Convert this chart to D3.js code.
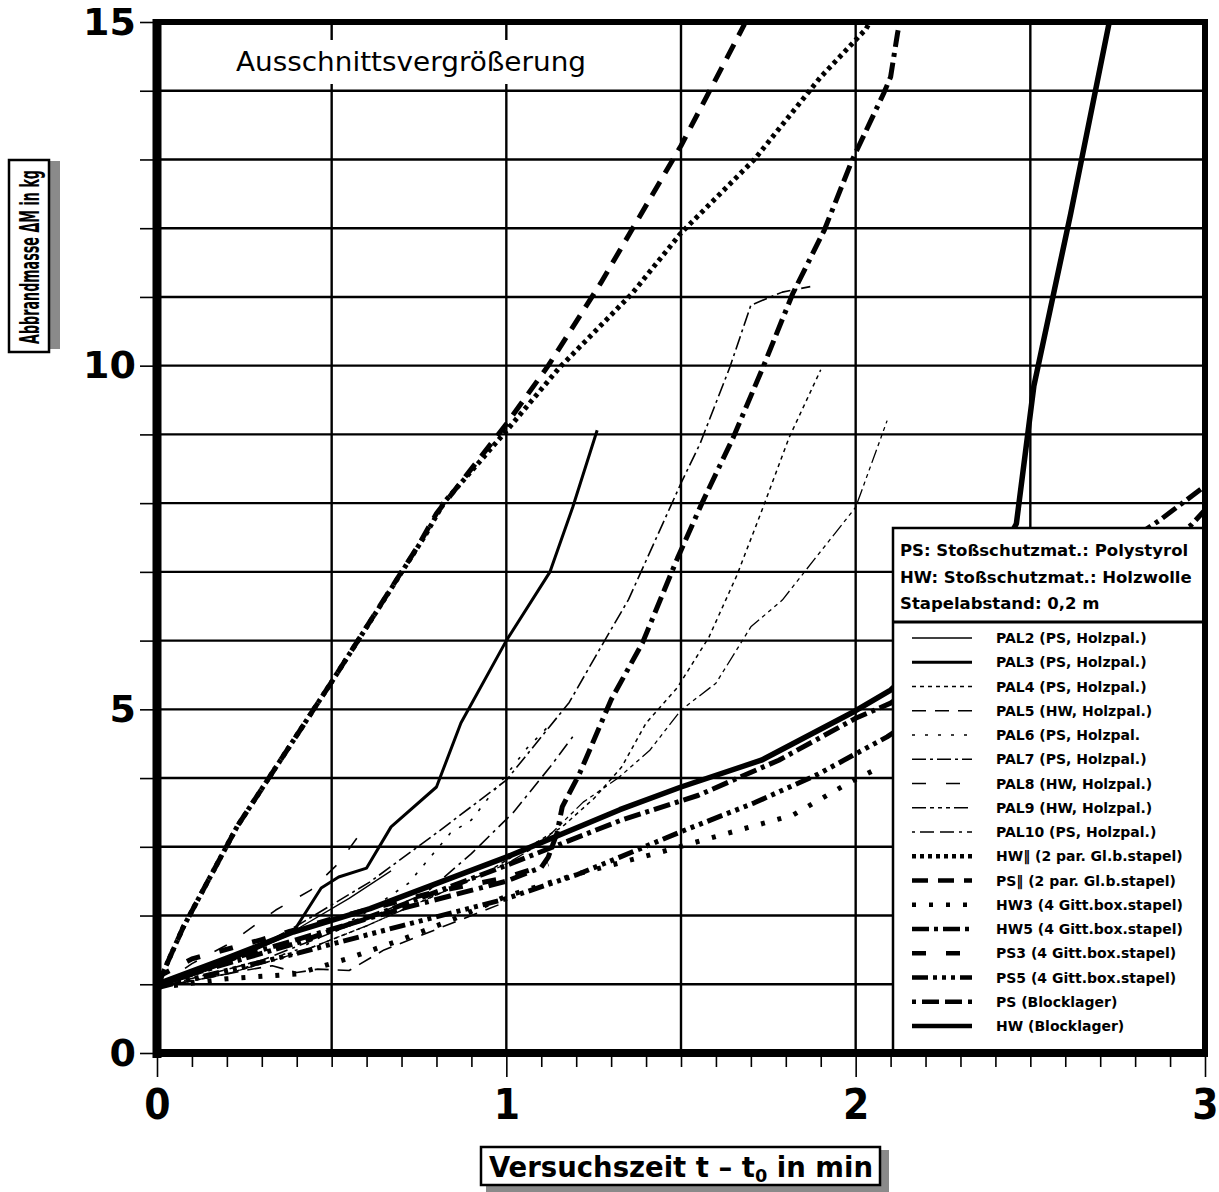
<!DOCTYPE html>
<html>
<head>
<meta charset="utf-8">
<script src="https://cdn.jsdelivr.net/npm/d3@7"></script>
<style>
  body { margin: 0; background: #fff; }
  svg { display: block; }
</style>
</head>
<body>
<svg id="chart"></svg>
<script>
// data: [time in min, burnt mass in kg]
const pal2 = [[0,0.95],[0.1,1.12],[0.2,1.32],[0.3,1.55],[0.41,1.83],[0.55,2.25],[0.67,2.65]];
const pal3 = [[0,0.97],[0.1,1.15],[0.2,1.33],[0.3,1.55],[0.39,1.76],[0.47,2.4],[0.52,2.56],[0.6,2.69],[0.67,3.29],[0.8,3.87],[0.87,4.8],[1.0,6.0],[1.125,7.0],[1.19,7.94],[1.26,9.06]];
const pal4 = [[0,0.95],[0.2,1.15],[0.4,1.45],[0.6,1.85],[0.8,2.3],[0.95,2.65],[1.16,3.29],[1.25,3.7],[1.33,4.16],[1.4,4.8],[1.49,5.32],[1.58,6.05],[1.66,6.95],[1.735,7.94],[1.81,8.96],[1.9,9.94]];
const pal5 = [[0,0.95],[0.15,1.1],[0.25,1.2],[0.33,1.27],[0.4,1.17],[0.46,1.22],[0.55,1.2],[0.65,1.5],[0.8,1.8],[1.0,2.2]];
const pal6 = [[0,0.95],[0.2,1.15],[0.4,1.5],[0.6,2.05],[0.72,2.47],[0.84,3.2],[0.9,3.39],[1.06,4.44],[1.12,4.75]];
const pal7 = [[0,0.95],[0.2,1.3],[0.4,1.85],[0.61,2.49],[0.8,3.2],[1.0,3.97],[1.18,5.1],[1.27,5.9],[1.35,6.6],[1.5,8.29],[1.555,8.87],[1.64,9.98],[1.7,10.88],[1.79,11.07],[1.87,11.15]];
const pal8 = [[0,0.95],[0.1,1.3],[0.21,1.6],[0.34,2.08],[0.44,2.37],[0.52,2.76],[0.59,3.25]];
const pal9 = [[0,0.95],[0.2,1.15],[0.4,1.45],[0.6,1.85],[0.8,2.3],[1.0,2.75],[1.1,3.05],[1.22,3.65],[1.32,4.0],[1.41,4.4],[1.5,4.99],[1.6,5.38],[1.7,6.2],[1.79,6.59],[1.88,7.17],[2.0,7.94],[2.09,9.2]];
const pal10 = [[0,0.95],[0.3,1.35],[0.6,1.95],[0.77,2.33],[0.9,2.9],[1.02,3.5],[1.125,4.16],[1.19,4.6]];
const hwPar = [[0,0.95],[0.02,1.2],[0.075,1.83],[0.23,3.3],[0.5,5.4],[0.77,7.55],[0.82,8.0],[1.0,9.05],[1.15,9.96],[1.36,11.05],[1.5,11.93],[1.71,13.0],[1.9,14.2],[2.03,14.9],[2.05,15.1]];
const psPar = [[0,0.95],[0.02,1.2],[0.075,1.83],[0.23,3.3],[0.5,5.4],[0.75,7.4],[0.8,7.85],[1.0,9.15],[1.12,10.0],[1.27,11.2],[1.5,13.2],[1.68,14.95],[1.69,15.1]];
const hw3 = [[0,0.95],[0.2,1.08],[0.4,1.15],[0.55,1.38],[0.7,1.65],[0.85,1.95],[1.0,2.28],[1.2,2.6],[1.44,2.92],[1.6,3.15],[1.82,3.46],[1.98,3.93],[2.07,4.16]];
const hw5 = [[0,1.0],[0.2,1.3],[0.4,1.6],[0.7,2.15],[1.0,2.73],[1.325,3.38],[1.55,3.75],[1.78,4.26],[2.0,4.87],[2.1,5.09],[2.5,6.5],[2.87,7.75],[3.0,8.25]];
const ps3 = [[0,1.1],[0.1,1.37],[0.3,1.65],[0.5,1.95],[0.8,2.35],[1.0,2.55],[1.12,2.75]];
const ps5 = [[0,0.95],[0.2,1.2],[0.4,1.45],[0.7,1.85],[0.99,2.23],[1.2,2.59],[1.325,2.85],[1.5,3.22],[1.71,3.64],[1.89,4.05],[2.09,4.6],[2.5,6.0],[2.96,7.68],[3.0,7.9]];
const psBlock = [[0,1.0],[0.2,1.35],[0.4,1.65],[0.7,2.1],[1.0,2.5],[1.1,2.7],[1.12,2.85],[1.145,3.2],[1.16,3.58],[1.21,4.07],[1.3,5.14],[1.39,5.97],[1.49,7.2],[1.56,8.0],[1.65,8.96],[1.735,9.98],[1.82,11.05],[1.91,11.97],[1.99,12.99],[2.08,13.96],[2.1,14.2],[2.12,14.84],[2.13,15.1]];
const hwBlock = [[0,1.0],[0.2,1.38],[0.39,1.76],[0.61,2.1],[1.0,2.85],[1.325,3.54],[1.5,3.87],[1.73,4.26],[2.0,4.98],[2.1,5.28],[2.3,6.2],[2.46,7.7],[2.51,9.7],[2.615,12.2],[2.73,15.1]];

const seriesLabels = [
  "PAL2 (PS, Holzpal.)", "PAL3 (PS, Holzpal.)", "PAL4 (PS, Holzpal.)",
  "PAL5 (HW, Holzpal.)", "PAL6 (PS, Holzpal.", "PAL7 (PS, Holzpal.)",
  "PAL8 (HW, Holzpal.)", "PAL9 (HW, Holzpal.)", "PAL10 (PS, Holzpal.)",
  "HW\u2016 (2 par. Gl.b.stapel)", "PS\u2016 (2 par. Gl.b.stapel)",
  "HW3 (4 Gitt.box.stapel)", "HW5 (4 Gitt.box.stapel)",
  "PS3 (4 Gitt.box.stapel)", "PS5 (4 Gitt.box.stapel)",
  "PS (Blocklager)", "HW (Blocklager)"
];
const seriesValues = [pal2, pal3, pal4, pal5, pal6, pal7, pal8, pal9, pal10,
  hwPar, psPar, hw3, hw5, ps3, ps5, psBlock, hwBlock];

const headerLines = ["PS: Sto\u00dfschutzmat.: Polystyrol", "HW: Sto\u00dfschutzmat.: Holzwolle", "Stapelabstand: 0,2 m"];
const xTickLabels = [0, 1, 2, 3];
const yTickLabels = [0, 5, 10, 15];

// line styles, same order as the series
const lineStyles = [
  { w: 1.3, dash: null },
  { w: 3, dash: null },
  { w: 1.5, dash: "4,4" },
  { w: 1.6, dash: "14,9" },
  { w: 1.6, dash: "3,10" },
  { w: 1.6, dash: "14,4,3,4" },
  { w: 1.6, dash: "14,20" },
  { w: 1.3, dash: "14,4,4,4,4,4,4,4" },
  { w: 1.6, dash: "3,5,14,6,14,5" },
  { w: 5, dash: "4,4" },
  { w: 5, dash: "16,10" },
  { w: 5, dash: "4,13" },
  { w: 5, dash: "17,5,4,5" },
  { w: 5, dash: "14,20" },
  { w: 5, dash: "16,5,4,5,4,5,4,5" },
  { w: 5, dash: "4,6,17,6,17,6" },
  { w: 5.5, dash: null }
];

const width = 1219;
const height = 1192;
const plotLeft = 157;
const plotRight = 1205;
const plotTop = 22;
const plotBottom = 1053;
const font = "'DejaVu Sans', sans-serif";
const fontCond = "'DejaVu Sans Condensed', 'DejaVu Sans', sans-serif";

const svg = d3.select("#chart").attr("width", width).attr("height", height);

const xScale = d3.scaleLinear().domain([0, 3]).range([plotLeft, plotRight]);
const yScale = d3.scaleLinear().domain([0, 15]).range([plotBottom, plotTop]);

// grid
const grid = svg.append("g").attr("stroke", "#000").attr("stroke-width", 2.4);
grid.selectAll("line.v")
  .data([0.5, 1, 1.5, 2, 2.5])
  .enter()
  .append("line")
  .attr("x1", (d) => xScale(d)).attr("x2", (d) => xScale(d))
  .attr("y1", plotTop).attr("y2", plotBottom);
grid.selectAll("line.h")
  .data(d3.range(1, 15))
  .enter()
  .append("line")
  .attr("x1", plotLeft).attr("x2", plotRight)
  .attr("y1", (d) => yScale(d)).attr("y2", (d) => yScale(d));

// annotation with white background
svg.append("rect").attr("x", 226).attr("y", 40).attr("width", 372).attr("height", 44).attr("fill", "#fff");
svg.append("text")
  .attr("x", 236).attr("y", 71)
  .attr("font-family", font).attr("font-size", 26)
  .attr("textLength", 350).attr("lengthAdjust", "spacingAndGlyphs")
  .text("Ausschnittsvergr\u00f6\u00dferung");

// series
svg.append("clipPath").attr("id", "plotClip")
  .append("rect")
  .attr("x", plotLeft).attr("y", plotTop)
  .attr("width", plotRight - plotLeft).attr("height", plotBottom - plotTop);

const line = d3.line().x((d) => xScale(d[0])).y((d) => yScale(d[1]));

svg.append("g").attr("clip-path", "url(#plotClip)")
  .selectAll("path")
  .data(seriesValues)
  .enter()
  .append("path")
  .attr("d", (d) => line(d))
  .attr("fill", "none")
  .attr("stroke", "#000")
  .attr("stroke-width", (d, i) => lineStyles[i].w)
  .attr("stroke-dasharray", (d, i) => lineStyles[i].dash)
  .attr("stroke-linejoin", "round");

// legend
const legendX = 893;
const legendY = 528;
const legend = svg.append("g");
legend.append("rect")
  .attr("x", legendX).attr("y", legendY)
  .attr("width", plotRight - legendX).attr("height", plotBottom - legendY)
  .attr("fill", "#fff").attr("stroke", "#000").attr("stroke-width", 2.5);
legend.selectAll("text.head")
  .data(headerLines)
  .enter()
  .append("text")
  .attr("x", legendX + 7)
  .attr("y", (d, i) => legendY + 28 + i * 26.5)
  .attr("font-family", font).attr("font-weight", "bold").attr("font-size", 16.5)
  .text((d) => d);
legend.append("line")
  .attr("x1", legendX).attr("x2", plotRight)
  .attr("y1", 622).attr("y2", 622)
  .attr("stroke", "#000").attr("stroke-width", 3);

const entryY = d3.scaleLinear().domain([0, seriesLabels.length - 1]).range([638, 1026]);
const entries = legend.selectAll("g.entry")
  .data(seriesLabels)
  .enter()
  .append("g")
  .attr("transform", (d, i) => "translate(0," + entryY(i) + ")");
entries.append("line")
  .attr("x1", 912).attr("x2", 972).attr("y1", 0).attr("y2", 0)
  .attr("stroke", "#000")
  .attr("stroke-width", (d, i) => Math.min(lineStyles[i].w, 4.5))
  .attr("stroke-dasharray", (d, i) => lineStyles[i].dash);
entries.append("text")
  .attr("x", 996).attr("y", 5)
  .attr("font-family", font).attr("font-weight", "bold").attr("font-size", 14)
  .text((d) => d);

// frame
svg.append("line").attr("x1", plotLeft).attr("x2", plotLeft).attr("y1", plotTop - 3).attr("y2", plotBottom + 5)
  .attr("stroke", "#000").attr("stroke-width", 9);
svg.append("line").attr("x1", plotLeft - 4).attr("x2", plotRight + 3).attr("y1", plotBottom).attr("y2", plotBottom)
  .attr("stroke", "#000").attr("stroke-width", 8);
svg.append("line").attr("x1", plotLeft).attr("x2", plotRight + 3).attr("y1", plotTop).attr("y2", plotTop)
  .attr("stroke", "#000").attr("stroke-width", 6);
svg.append("line").attr("x1", plotRight).attr("x2", plotRight).attr("y1", plotTop).attr("y2", plotBottom)
  .attr("stroke", "#000").attr("stroke-width", 6);

// axes
const yAxis = d3.axisLeft(yScale)
  .tickValues(d3.range(0, 16))
  .tickSize(13)
  .tickPadding(4)
  .tickFormat((d) => (yTickLabels.includes(d) ? d : ""));
const gy = svg.append("g").attr("transform", "translate(" + (plotLeft - 4) + ",0)").call(yAxis);
gy.select(".domain").remove();
gy.selectAll("line").attr("stroke-width", 1.6);
gy.selectAll("text")
  .attr("font-family", font).attr("font-weight", "bold").attr("font-size", 38)
  .attr("fill", "#000");

const xAxis = d3.axisBottom(xScale)
  .tickValues(d3.range(0, 31).map((d) => d / 10))
  .tickSize(12)
  .tickFormat((d) => (xTickLabels.includes(Math.round(d * 10) / 10) ? d3.format("d")(d) : ""));
const gx = svg.append("g").attr("transform", "translate(0," + (plotBottom + 4) + ")").call(xAxis);
gx.select(".domain").remove();
gx.selectAll("line")
  .attr("stroke-width", 1.6)
  .attr("y2", (d) => (Number.isInteger(Math.round(d * 1000) / 1000) ? 20 : 10));
gx.selectAll("text")
  .attr("y", 32)
  .attr("font-family", fontCond).attr("font-weight", "bold").attr("font-size", 42)
  .attr("fill", "#000");

// axis titles in shadowed boxes
svg.append("rect").attr("x", 49).attr("y", 161).attr("width", 11).attr("height", 188).attr("fill", "#8a8a8a");
svg.append("rect").attr("x", 9).attr("y", 160).attr("width", 40).attr("height", 192)
  .attr("fill", "#fff").attr("stroke", "#000").attr("stroke-width", 2.5);
svg.append("text")
  .attr("transform", "translate(39,344) rotate(-90)")
  .attr("font-family", fontCond).attr("font-weight", "bold").attr("font-size", 27)
  .attr("textLength", 174).attr("lengthAdjust", "spacingAndGlyphs")
  .text("Abbrandmasse \u0394M in kg");

svg.append("rect").attr("x", 880).attr("y", 1150).attr("width", 9).attr("height", 42).attr("fill", "#8a8a8a");
svg.append("rect").attr("x", 486).attr("y", 1185).attr("width", 403).attr("height", 7).attr("fill", "#8a8a8a");
svg.append("rect").attr("x", 481).attr("y", 1147).attr("width", 399).attr("height", 38)
  .attr("fill", "#fff").attr("stroke", "#000").attr("stroke-width", 2.5);
const xTitle = svg.append("text")
  .attr("x", 489).attr("y", 1177)
  .attr("font-family", fontCond).attr("font-weight", "bold").attr("font-size", 28)
  .attr("textLength", 384).attr("lengthAdjust", "spacingAndGlyphs");
xTitle.append("tspan").text("Versuchszeit t \u2013 t");
xTitle.append("tspan").attr("font-size", 18).attr("dy", 5).text("0");
xTitle.append("tspan").attr("dy", -5).text(" in min");
</script>
</body>
</html>
